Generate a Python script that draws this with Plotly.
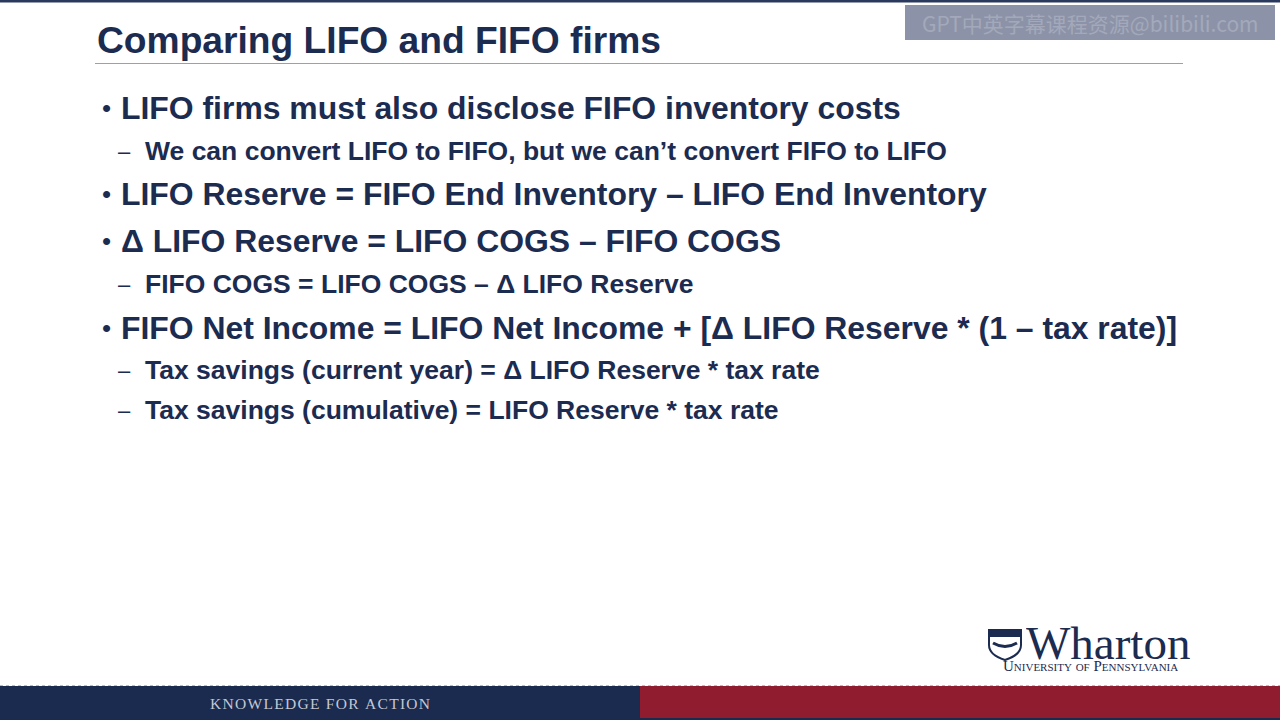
import plotly.graph_objects as go

# slide content
title = "Comparing LIFO and FIFO firms"
items = [
    "LIFO firms must also disclose FIFO inventory costs",
    "We can convert LIFO to FIFO, but we can\u2019t convert FIFO to LIFO",
    "LIFO Reserve = FIFO End Inventory \u2013 LIFO End Inventory",
    "\u0394 LIFO Reserve = LIFO COGS \u2013 FIFO COGS",
    "FIFO COGS = LIFO COGS \u2013 \u0394 LIFO Reserve",
    "FIFO Net Income = LIFO Net Income + [\u0394 LIFO Reserve * (1 \u2013 tax rate)]",
    "Tax savings (current year) = \u0394 LIFO Reserve * tax rate",
    "Tax savings (cumulative) = LIFO Reserve * tax rate",
]
levels = [1, 2, 1, 1, 2, 1, 2, 2]
footer = "KNOWLEDGE FOR ACTION"
watermark = "GPT\u4e2d\u82f1\u5b57\u5e55\u8bfe\u7a0b\u8d44\u6e90@bilibili.com"

# layout (pixels, y from top)
item_y = [108, 151, 194, 241, 284, 328, 370, 410]
navy = "#1c2b50"
red = "#901c2f"
font_sans = "Liberation Sans, Arial, sans-serif"
font_serif = "Liberation Serif, Times New Roman, serif"

fig = go.Figure()
ann = []
shapes = []

# top thin navy line
shapes.append(dict(type="rect", x0=0, x1=1280, y0=0, y1=2.5, fillcolor="#2a3a5e", line_width=0))

# watermark box
shapes.append(dict(type="rect", x0=905, x1=1275, y0=5, y1=40, fillcolor="#8c93a8", line_width=0))
ann.append(dict(x=1090, y=23, text=watermark, showarrow=False, xanchor="center", yanchor="middle",
                font=dict(family="Noto Sans CJK SC, " + font_sans, size=21, color="#a3a9ba")))

# title and rule
ann.append(dict(x=95, y=40, text="<b>" + title + "</b>", showarrow=False, xanchor="left", yanchor="middle",
                font=dict(family=font_sans, size=37.2, color=navy)))
shapes.append(dict(type="line", x0=95, x1=1183, y0=63.5, y1=63.5, line=dict(color="#9aa0ac", width=1)))

# bullet list
for txt, lvl, y in zip(items, levels, item_y):
    if lvl == 1:
        ann.append(dict(x=100, y=y, text="\u2022", showarrow=False, xanchor="left", yanchor="middle",
                        font=dict(family=font_sans, size=26, color=navy)))
        ann.append(dict(x=119, y=y, text="<b>" + txt + "</b>", showarrow=False, xanchor="left",
                        yanchor="middle", font=dict(family=font_sans, size=31.9, color=navy)))
    else:
        ann.append(dict(x=116, y=y, text="\u2013", showarrow=False, xanchor="left", yanchor="middle",
                        font=dict(family=font_sans, size=22, color=navy)))
        ann.append(dict(x=143, y=y, text="<b>" + txt + "</b>", showarrow=False, xanchor="left",
                        yanchor="middle", font=dict(family=font_sans, size=26.5, color=navy)))

# Wharton logo (shield + wordmark)
shapes.append(dict(type="path", path="M 989 630 L 1021 630 L 1021 645 Q 1021 655 1005 660 Q 989 655 989 645 Z",
                   fillcolor="white", line=dict(color=navy, width=2)))
shapes.append(dict(type="rect", x0=990, x1=1020, y0=631, y1=637, fillcolor=navy, line_width=0))
shapes.append(dict(type="path", path="M 993 643 Q 1005 650 1017 643", line=dict(color=navy, width=3)))
ann.append(dict(x=1024, y=643, text="Wharton", showarrow=False, xanchor="left", yanchor="middle",
                height=38, valign="middle",
                font=dict(family=font_serif, size=47, color=navy)))
ann.append(dict(x=1090, y=666, text="University of Pennsylvania",
                showarrow=False, xanchor="center", yanchor="middle", height=12,
                font=dict(family=font_serif, size=15, color=navy, variant="small-caps")))

# footer bars
shapes.append(dict(type="line", x0=0, x1=1280, y0=685.5, y1=685.5, line=dict(color="#b8bcc6", width=1, dash="dot")))
shapes.append(dict(type="rect", x0=0, x1=640, y0=686, y1=720, fillcolor="#1b2b50", line_width=0))
shapes.append(dict(type="rect", x0=640, x1=1280, y0=686, y1=718, fillcolor=red, line_width=0))
shapes.append(dict(type="rect", x0=640, x1=1280, y0=718, y1=720, fillcolor="#1b2b50", line_width=0))
ann.append(dict(x=320, y=703, text="\u200a".join(footer), showarrow=False, xanchor="center", yanchor="middle",
                font=dict(family=font_serif, size=15.5, color="#c4c8d2")))

fig.update_layout(
    width=1280, height=720,
    margin=dict(l=0, r=0, t=0, b=0),
    paper_bgcolor="white", plot_bgcolor="white",
    xaxis=dict(range=[0, 1280], visible=False, fixedrange=True),
    yaxis=dict(range=[720, 0], visible=False, fixedrange=True),
    annotations=ann, shapes=shapes,
    showlegend=False,
)

fig.write_html("out.html", config={"displayModeBar": False},
               post_script="document.body.style.margin='0';")
